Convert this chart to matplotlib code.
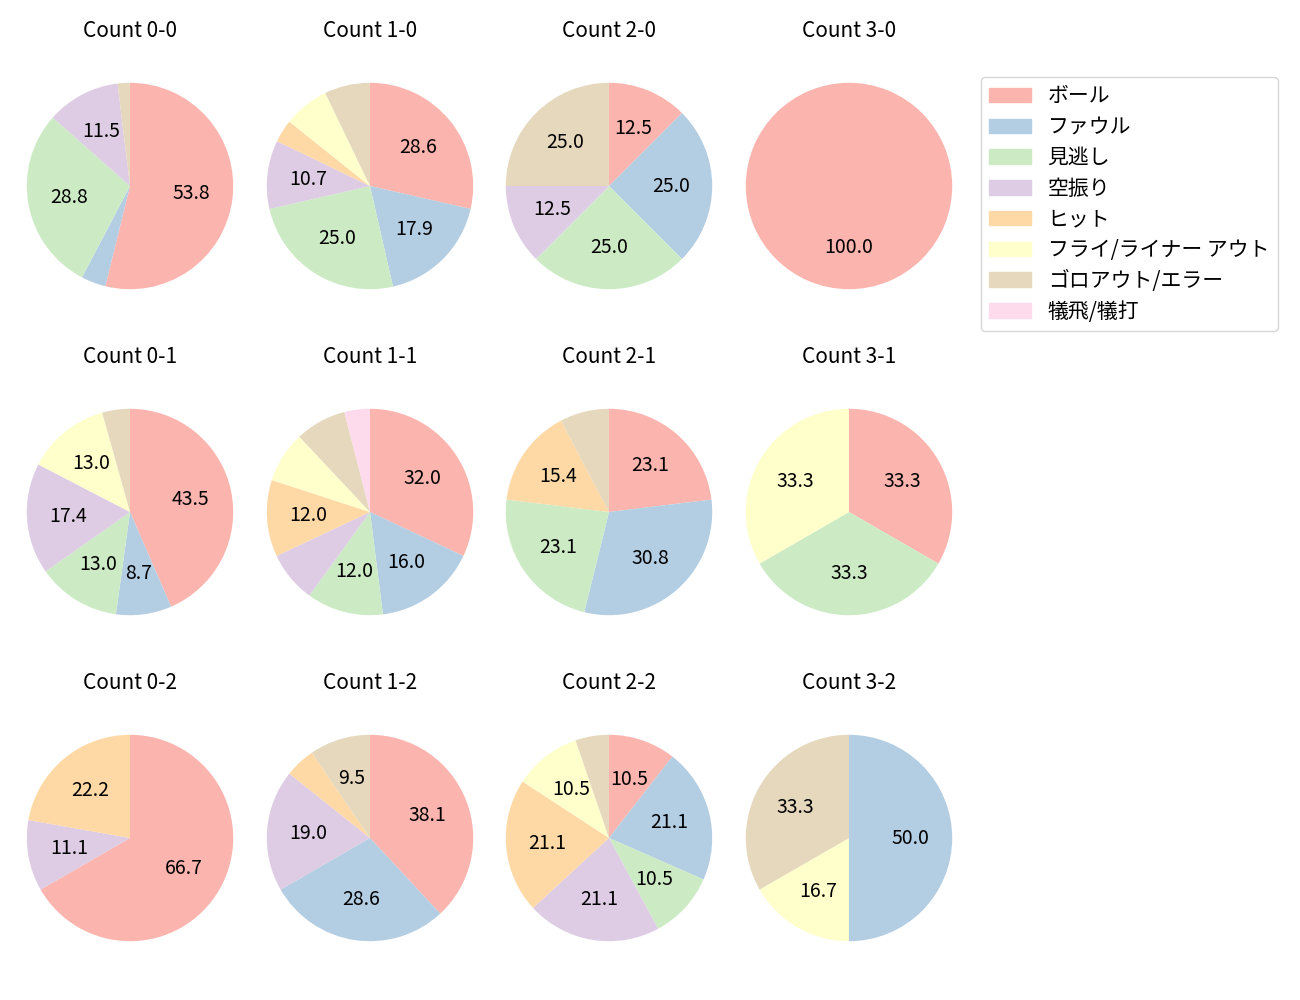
#!/usr/bin/env python3
# Pitch result breakdown by count, one pie per ball-strike count

import matplotlib
matplotlib.use("Agg")
import matplotlib.pyplot as plt

plt.rcParams['font.family'] = ['Noto Sans CJK JP', 'DejaVu Sans']

# Result categories (legend order)
categories = ['ボール', 'ファウル', '見逃し', '空振り', 'ヒット',
              'フライ/ライナー アウト', 'ゴロアウト/エラー', '犠飛/犠打']
colors = ['#fbb4ae', '#b3cde3', '#ccebc5', '#decbe4', '#fed9a6',
          '#ffffcc', '#e5d8bd', '#fddaec']

# Pitch counts per category, keyed by "balls-strikes"
counts = {
    '0-0': [28, 2, 15, 6, 0, 0, 1, 0],
    '1-0': [8, 5, 7, 3, 1, 2, 2, 0],
    '2-0': [1, 2, 2, 1, 0, 0, 2, 0],
    '3-0': [1, 0, 0, 0, 0, 0, 0, 0],
    '0-1': [10, 2, 3, 4, 0, 3, 1, 0],
    '1-1': [8, 4, 3, 2, 3, 2, 2, 1],
    '2-1': [3, 4, 3, 0, 2, 0, 1, 0],
    '3-1': [1, 0, 1, 0, 0, 1, 0, 0],
    '0-2': [6, 0, 0, 1, 2, 0, 0, 0],
    '1-2': [8, 6, 0, 4, 1, 0, 2, 0],
    '2-2': [2, 4, 2, 4, 4, 2, 1, 0],
    '3-2': [0, 3, 0, 0, 0, 1, 2, 0],
}

fig = plt.figure(figsize=(13, 10), dpi=100)
W, H = 1300, 1000
size = 258  # axes box in pixels
col_x = [130, 370, 609, 849]
row_y = [186, 512, 838]

for s, cy in enumerate(row_y):
    for b, cx in enumerate(col_x):
        key = f'{b}-{s}'
        ax = fig.add_axes([(cx - size / 2) / W, 1 - (cy + size / 2) / H,
                           size / W, size / H])
        wedges, texts, autotexts = ax.pie(
            counts[key], colors=colors, startangle=90, counterclock=False,
            autopct=lambda p: f'{p:.1f}' if p >= 8.5 else '',
            textprops={'fontsize': 14})
        ax.set_xlim(-1.25, 1.25)
        ax.set_ylim(-1.25, 1.25)
        ax.set_aspect('equal')
        ax.set_title(f'Count {key}', fontsize=15, pad=14.5)

handles = [plt.Rectangle((0, 0), 1, 1, color=c) for c in colors]
fig.legend(handles, categories, loc='upper left', borderaxespad=0,
           labelspacing=0.42, bbox_to_anchor=(981 / W, 1 - 77 / H),
           fontsize=15)

plt.savefig('out.png')
